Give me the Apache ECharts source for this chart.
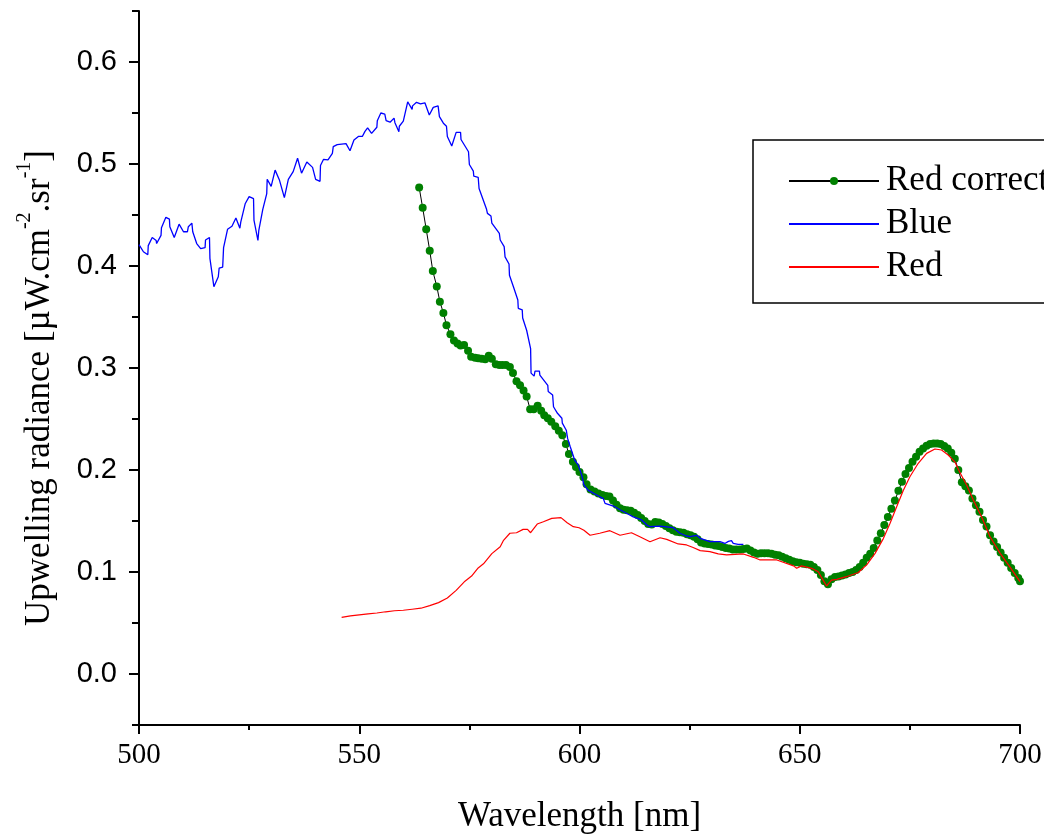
<!DOCTYPE html>
<html>
<head>
<meta charset="utf-8">
<script src="https://cdn.jsdelivr.net/npm/echarts@6/dist/echarts.min.js"></script>
<style>html,body{margin:0;padding:0;background:#fff}#chart{width:1044px;height:837px}</style>
</head>
<body>
<div id="chart"></div>
<script>
// ---- data ----
const xTickLabels = [500, 550, 600, 650, 700];
const yTickLabels = [0.0, 0.1, 0.2, 0.3, 0.4, 0.5, 0.6];
const seriesNames = ['Red corrected', 'Blue', 'Red'];

const redCorrected = [
[563.6,0.477],[564.4,0.457],[565.2,0.436],[566.0,0.415],[566.7,0.395],[567.6,0.380],[568.3,0.365],[569.1,0.354],
[569.8,0.342],[570.7,0.333],[571.5,0.327],[572.3,0.324],[573.0,0.322],[573.8,0.3225],[574.7,0.317],[575.4,0.311],
[576.3,0.310],[577.0,0.3095],[577.8,0.309],[578.6,0.3085],[579.4,0.312],[580.1,0.309],[581.0,0.3036],[581.8,0.303],
[582.5,0.303],[583.3,0.303],[584.2,0.301],[584.9,0.295],[585.7,0.287],[586.5,0.283],[587.3,0.278],[588.0,0.272],
[588.8,0.2595],[589.6,0.2595],[590.5,0.263],[591.3,0.258],[592.0,0.2536],[592.8,0.2507],[593.6,0.2474],[594.5,0.243],
[595.3,0.2385],[596.1,0.234],[596.9,0.2255],[597.6,0.2157],[598.5,0.208],[599.2,0.203],[600.0,0.198],[600.9,0.193],
[601.6,0.186],[602.5,0.181],[603.4,0.179],[604.3,0.177],[605.2,0.1755],[606.0,0.1745],[606.8,0.174],[607.6,0.170],
[608.4,0.166],[609.2,0.1624],[610.0,0.161],[610.8,0.1605],[611.6,0.160],[612.4,0.158],[613.2,0.156],[614.0,0.153],
[614.8,0.150],[615.6,0.147],[616.4,0.1465],[617.2,0.149],[618.0,0.1485],[618.8,0.147],[619.6,0.145],[620.4,0.143],
[621.2,0.141],[622.0,0.1395],[622.8,0.139],[623.6,0.1385],[624.4,0.137],[625.2,0.136],[626.0,0.1345],[626.8,0.132],
[627.6,0.129],[628.4,0.128],[629.2,0.1275],[630.0,0.127],[630.8,0.126],[631.6,0.1255],[632.4,0.1245],[633.2,0.1235],
[634.0,0.123],[634.8,0.122],[635.6,0.122],[636.4,0.122],[637.2,0.1225],[638.0,0.123],[638.8,0.121],[639.6,0.119],
[640.4,0.118],[641.2,0.1183],[642.0,0.1183],[642.8,0.1183],[643.6,0.118],[644.4,0.117],[645.2,0.1165],[646.0,0.115],
[646.8,0.1135],[647.6,0.112],[648.4,0.1105],[649.2,0.1095],[650.0,0.109],[650.8,0.108],[651.6,0.1075],[652.4,0.107],
[653.2,0.105],[654.0,0.102],[654.8,0.097],[655.6,0.091],[656.4,0.088],[657.2,0.093],[658.0,0.095],[658.8,0.0955],
[659.6,0.0965],[660.4,0.0975],[661.2,0.099],[662.0,0.100],[662.8,0.102],[663.6,0.105],[664.4,0.109],[665.2,0.114],
[666.0,0.118],[666.8,0.1235],[667.6,0.131],[668.4,0.138],[669.2,0.146],[670.0,0.154],[670.8,0.162],[671.6,0.170],
[672.4,0.1797],[673.2,0.1885],[674.0,0.196],[674.8,0.202],[675.6,0.208],[676.4,0.213],[677.2,0.218],[678.0,0.221],
[678.8,0.2238],[679.6,0.2255],[680.4,0.226],[681.2,0.226],[682.0,0.2255],[682.8,0.2235],[683.6,0.221],[684.4,0.217],
[685.2,0.211],[686.0,0.200],[686.8,0.188],[687.6,0.184],[688.4,0.180],[689.2,0.172],[690.0,0.1655],[690.8,0.159],
[691.6,0.151],[692.4,0.1445],[693.2,0.136],[694.0,0.130],[694.8,0.1245],[695.6,0.119],[696.4,0.114],[697.2,0.109],
[698.0,0.104],[698.8,0.099],[699.6,0.094],[700.0,0.091]
];

const blue = [
[500,0.421],[501,0.414],[502,0.411],[502.1,0.420],[503,0.428],[503.9,0.425],[504,0.422],[505,0.430],[505.1,0.4376],
[506.1,0.4477],[506.9,0.446],[507.0,0.4385],[508,0.428],[509.1,0.441],[510.1,0.4336],[511,0.4336],[511.2,0.4385],
[512,0.442],[512.2,0.4336],[513.1,0.422],[514,0.417],[515,0.418],[515.1,0.4255],[516,0.428],[516.1,0.4075],[517,0.3797],
[518,0.3895],[518.2,0.398],[519,0.399],[519.2,0.418],[520.1,0.436],[521.1,0.439],[522,0.447],[522.9,0.437],[523.1,0.443],
[524.1,0.461],[525,0.468],[526,0.466],[526.1,0.445],[527,0.425],[527.2,0.435],[528.1,0.4556],[529,0.471],[529.1,0.485],
[530,0.478],[530.9,0.494],[531.9,0.484],[533,0.467],[533.9,0.485],[535,0.4925],[536,0.5056],[536.9,0.491],[538.1,0.502],
[539.4,0.4967],[540.1,0.485],[541.1,0.483],[541.2,0.4985],[541.9,0.5046],[542.9,0.504],[543.9,0.5105],[544.1,0.517],
[545,0.519],[547,0.520],[547.9,0.513],[548.8,0.5235],[549.8,0.527],[550.7,0.527],[551.3,0.532],[551.9,0.5355],
[552.8,0.530],[554,0.536],[554.1,0.5425],[554.9,0.550],[555.8,0.549],[556.1,0.5425],[557,0.541],[557.9,0.545],
[558.1,0.5405],[559,0.5317],[559.1,0.537],[560,0.542],[561,0.561],[562,0.5536],[562.1,0.557],[563,0.5605],[563.9,0.559],
[564.9,0.560],[565.9,0.548],[566.8,0.5555],[567.9,0.557],[568.2,0.5464],[569.1,0.540],[569.8,0.537],[570,0.527],
[571,0.5176],[572,0.531],[573,0.531],[573.1,0.524],[574.8,0.512],[575,0.4995],[575.9,0.493],[576,0.488],[577,0.487],
[577.2,0.476],[578.9,0.4556],[579.1,0.4516],[579.9,0.449],[580.1,0.442],[581.8,0.432],[582,0.4255],[582.9,0.419],
[583.1,0.409],[584,0.402],[584.1,0.391],[585,0.3797],[586,0.3667],[586.1,0.3585],[587,0.357],[587.1,0.349],[588,0.337],
[588.9,0.319],[589,0.295],[589.7,0.292],[589.9,0.297],[590.9,0.297],[591,0.293],[592.8,0.283],[592.9,0.277],
[593.9,0.2735],[594.1,0.262],[595,0.2556],[596,0.2507],[596.1,0.246],[597,0.239],[597.3,0.231],[597.9,0.2228],
[598.9,0.2098],[599.7,0.205],[600.5,0.195],[601,0.1853],[602,0.180],[603.9,0.1755],[605.4,0.172],[605.8,0.1673],
[607.7,0.1647],[609.2,0.161],[611.1,0.1566],[612.2,0.154],[614.1,0.151],[615.3,0.146],[616,0.1444],[618.3,0.145],
[621.3,0.1435],[622.8,0.138],[624.3,0.1353],[625.1,0.1346],[626.6,0.136],[627.4,0.133],[629.6,0.1297],[631.9,0.1297],
[632.1,0.128],[633,0.128],[633.8,0.130],[634.5,0.1307],[634.9,0.128],[636,0.127],[637.2,0.127]
];

const red = [
[546.0,0.0555],[548,0.057],[550,0.058],[552,0.059],[554,0.0598],[556,0.061],[558,0.062],[560,0.0625],[562,0.0635],
[564,0.0645],[566,0.067],[568,0.070],[570,0.0745],[572,0.082],[574,0.091],[575.5,0.096],[577,0.104],[578.2,0.108],
[580.1,0.118],[582,0.1248],[582.7,0.1307],[584.2,0.138],[585.7,0.1385],[587.2,0.1418],[588.2,0.1418],[588.9,0.1385],
[590.4,0.147],[591.8,0.1493],[593.7,0.1526],[595.8,0.1533],[597.2,0.1483],[598.6,0.1444],[599.9,0.1434],[601,0.141],
[602.4,0.136],[604.6,0.138],[606.9,0.1405],[609.2,0.136],[611.8,0.1385],[613.7,0.1346],[616,0.1297],[618.3,0.1336],
[619.8,0.132],[622.4,0.1275],[624.3,0.1265],[625.8,0.124],[627.4,0.121],[629.6,0.120],[631.5,0.1177],[633.4,0.1167],
[637.2,0.1177],[639.5,0.1144],[641,0.1118],[644.8,0.1118],[648.6,0.106],[649.3,0.1036],[650.4,0.106],[652.7,0.1036],
[654.2,0.1003],[655.3,0.092],[656.1,0.0863],[657.2,0.092],[658.4,0.0928],[660.6,0.0954],[663.3,0.0995],[665.2,0.107],
[667.1,0.1183],[669,0.133],[670.5,0.1477],[672,0.164],[673.5,0.180],[675,0.1934],[676.9,0.2066],[678.8,0.2163],
[680.7,0.2206],[682.2,0.2196],[683.7,0.2147],[685.2,0.208],[686.3,0.198],[687.9,0.185],[689.4,0.1706],[691.3,0.154],
[693.2,0.1346],[695.5,0.1183],[697.7,0.105],[700,0.0905]
];

// ---- chart ----
const chart = echarts.init(document.getElementById('chart'), null, {renderer: 'canvas'});
const serif = 'Liberation Serif, Times New Roman, serif';
const sans = 'Liberation Sans, Arial, sans-serif';
const noSymbol = {color: 'rgba(0,0,0,0)', opacity: 0, borderWidth: 0};

const option = {
  animation: false,
  backgroundColor: '#ffffff',
  grid: {left: 139, right: 24, top: 11, bottom: 112, containLabel: false, outerBoundsMode: 'none'},
  legend: {
    orient: 'vertical',
    left: 753, top: 140,
    data: [
      {name: seriesNames[0]},
      {name: seriesNames[1], itemStyle: noSymbol},
      {name: seriesNames[2], itemStyle: noSymbol}
    ],
    itemWidth: 90, itemHeight: 10, itemGap: 7,
    padding: [23, 40, 18, 35],
    borderColor: '#000', borderWidth: 1.5,
    textStyle: {fontFamily: serif, fontSize: 35, color: '#000', lineHeight: 36, padding: [0, 0, 0, 2]},
    selectedMode: false
  },
  xAxis: {
    type: 'value', min: 500, max: 700, interval: 50,
    name: 'Wavelength [nm]', nameLocation: 'middle', nameGap: 74,
    nameTextStyle: {fontFamily: serif, fontSize: 35, color: '#000'},
    axisLine: {show: true, onZero: false, lineStyle: {color: '#000', width: 2}},
    axisTick: {show: true, inside: false, length: 9, lineStyle: {color: '#000', width: 2}},
    minorTick: {show: true, splitNumber: 2, length: 5, lineStyle: {color: '#000', width: 2}},
    axisLabel: {fontFamily: serif, fontSize: 29, color: '#000', margin: 16,
      formatter: v => xTickLabels.includes(Math.round(v)) ? String(Math.round(v)) : ''},
    splitLine: {show: false}
  },
  yAxis: [{
    type: 'value', min: -0.05, max: 0.65, interval: 0.05,
    name: '{m|Upwelling radiance [µW.cm}{s|-2}{m|.sr}{s|-1}{m|]}',
    nameLocation: 'middle', nameRotate: 90, nameGap: 82,
    nameTextStyle: {
      padding: [0, 40, 0, 0],
      rich: {
        m: {fontFamily: serif, fontSize: 35, color: '#000', lineHeight: 42, verticalAlign: 'bottom'},
        s: {fontFamily: serif, fontSize: 20, color: '#000', lineHeight: 42, verticalAlign: 'top'}
      }
    },
    axisLine: {show: true, onZero: false, lineStyle: {color: '#000', width: 2}},
    axisTick: {show: true, inside: false, length: 7, lineStyle: {color: '#000', width: 2}},
    axisLabel: {fontFamily: sans, fontSize: 29, color: '#000', margin: 22,
      formatter: v => {
        const k = Math.round(v * 100);
        return (k % 10 === 0) ? (k / 100).toFixed(1) : '';
      }},
    splitLine: {show: false}
  }, {
    type: 'value', min: -0.05, max: 0.65, position: 'left', offset: 0,
    axisLine: {show: false},
    axisTick: {show: true, inside: false, length: 10, customValues: yTickLabels, lineStyle: {color: '#000', width: 2}},
    axisLabel: {show: false},
    splitLine: {show: false}
  }],
  series: [
    {
      name: seriesNames[0], type: 'line', data: redCorrected,
      symbol: 'circle', symbolSize: 8, showSymbol: true,
      lineStyle: {color: '#000', width: 1},
      itemStyle: {color: '#008000', borderWidth: 0},
      emphasis: {disabled: true}, z: 2
    },
    {
      name: seriesNames[1], type: 'line', data: blue,
      symbol: 'none', lineStyle: {color: '#0000ff', width: 1.3},
      itemStyle: {color: '#0000ff'}, emphasis: {disabled: true}, z: 3
    },
    {
      name: seriesNames[2], type: 'line', data: red,
      symbol: 'none', lineStyle: {color: '#ff0000', width: 1.2},
      itemStyle: {color: '#ff0000'}, emphasis: {disabled: true}, z: 4
    }
  ]
};
chart.setOption(option);
</script>
</body>
</html>
